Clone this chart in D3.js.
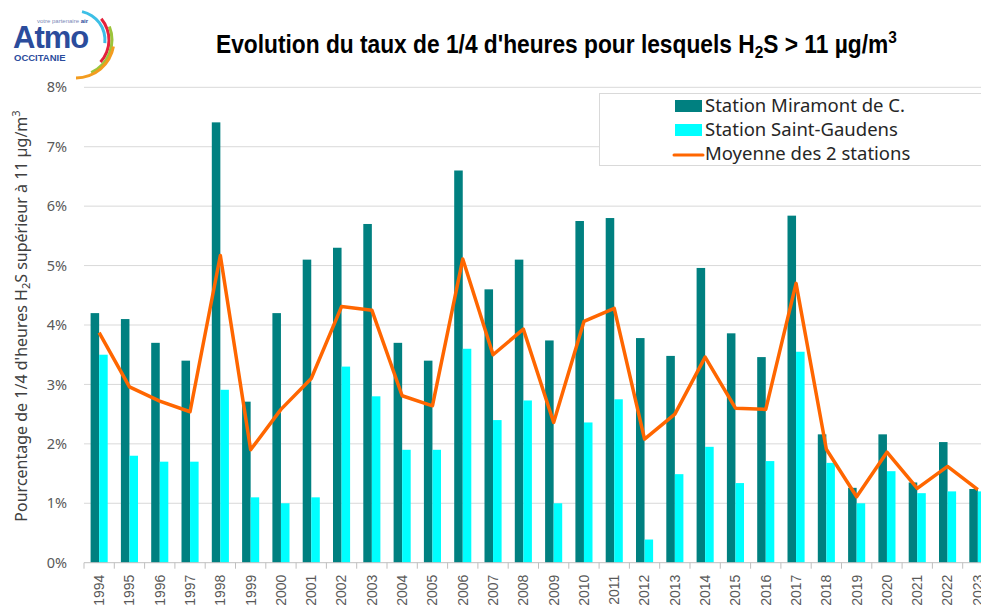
<!DOCTYPE html>
<meta charset="utf-8">
<html>
<head>
  <style>
    body { margin: 0; background: #fff; }
    svg { display: block; }
    .tick-lbl { font-family: "Noto Sans", "Open Sans", sans-serif; font-size: 14.5px; fill: #595959; }
    .year-lbl { font-family: "Liberation Sans", Arial, sans-serif; font-size: 14px; fill: #595959; }
    .legend-lbl { font-family: "Noto Sans", "Open Sans", sans-serif; font-size: 18.5px; fill: #262626; }
  </style>
  <script src="https://d3js.org/d3.v7.min.js"></script>
</head>
<body>
<svg width="981" height="608"></svg>
<script>
  var years = ["1994","1995","1996","1997","1998","1999","2000","2001","2002","2003",
               "2004","2005","2006","2007","2008","2009","2010","2011","2012","2013",
               "2014","2015","2016","2017","2018","2019","2020","2021","2022","2023"];

  // % of quarter hours with H2S > 11 µg/m3
  var miramont = [4.2, 4.1, 3.7, 3.4, 7.41, 2.71, 4.2, 5.1, 5.3, 5.7,
                  3.7, 3.4, 6.6, 4.6, 5.1, 3.74, 5.75, 5.8, 3.78, 3.48,
                  4.96, 3.86, 3.46, 5.84, 2.16, 1.26, 2.16, 1.35, 2.03, 1.24];
  var saintGaudens = [3.5, 1.8, 1.7, 1.7, 2.91, 1.1, 1.0, 1.1, 3.3, 2.8,
                      1.9, 1.9, 3.6, 2.4, 2.73, 1.0, 2.36, 2.75, 0.39, 1.49,
                      1.95, 1.34, 1.71, 3.55, 1.68, 1.0, 1.54, 1.17, 1.2, 1.2];
  var moyenne = [3.87, 2.96, 2.72, 2.54, 5.17, 1.9, 2.58, 3.1, 4.31, 4.25,
                 2.81, 2.64, 5.11, 3.5, 3.93, 2.36, 4.06, 4.28, 2.08, 2.5,
                 3.46, 2.6, 2.58, 4.7, 1.91, 1.11, 1.86, 1.25, 1.62, 1.23];
  var yTicks = [0, 1, 2, 3, 4, 5, 6, 7, 8];

  var colMiramont = "#008080", colSaint = "#00ffff", colMoy = "#ff6600";

  var svg = d3.select("svg");

  var plotLeft = 84, step = 30.3,
      plotTop = 87.3, plotBottom = 562.7;

  var x = d3.scaleBand().domain(years).range([plotLeft, plotLeft + step * years.length]);
  var sub = d3.scaleBand().domain(["m", "s"]).range([6.6, x.bandwidth() - 6.6]);
  var y = d3.scaleLinear().domain([0, 8]).range([plotBottom, plotTop]);

  // gridlines
  svg.append("g").selectAll("line")
     .data(yTicks.filter(function(d) { return d > 0; }))
     .enter().append("line")
     .attr("x1", plotLeft).attr("x2", x.range()[1])
     .attr("y1", function(d) { return y(d); })
     .attr("y2", function(d) { return y(d); })
     .attr("stroke", "#d9d9d9").attr("stroke-width", 1);

  // y tick labels
  svg.append("g").selectAll("text")
     .data(yTicks)
     .enter().append("text")
     .attr("class", "tick-lbl")
     .attr("x", 67)
     .attr("y", function(d) { return y(d); })
     .attr("dy", "0.35em")
     .attr("text-anchor", "end")
     .text(function(d) { return d + "%"; });

  // bars
  var groups = svg.append("g").selectAll("g")
     .data(years)
     .enter().append("g")
     .attr("transform", function(d) { return "translate(" + x(d) + ",0)"; });

  groups.append("rect")
     .attr("x", sub("m"))
     .attr("width", sub.bandwidth())
     .attr("y", function(d, i) { return y(miramont[i]); })
     .attr("height", function(d, i) { return plotBottom - y(miramont[i]); })
     .attr("fill", colMiramont);

  groups.append("rect")
     .attr("x", sub("s"))
     .attr("width", sub.bandwidth())
     .attr("y", function(d, i) { return y(saintGaudens[i]); })
     .attr("height", function(d, i) { return plotBottom - y(saintGaudens[i]); })
     .attr("fill", colSaint);

  // x axis line + ticks at band boundaries
  svg.append("line")
     .attr("x1", plotLeft).attr("x2", x.range()[1])
     .attr("y1", plotBottom).attr("y2", plotBottom)
     .attr("stroke", "#bfbfbf").attr("stroke-width", 1);

  svg.append("g").selectAll("line")
     .data(years)
     .enter().append("line")
     .attr("x1", function(d) { return x(d); })
     .attr("x2", function(d) { return x(d); })
     .attr("y1", plotBottom).attr("y2", plotBottom + 6)
     .attr("stroke", "#bfbfbf");

  svg.append("g").selectAll("text")
     .data(years)
     .enter().append("text")
     .attr("class", "year-lbl")
     .attr("transform", function(d) {
         return "translate(" + (x(d) + x.bandwidth() / 2) + "," + (plotBottom + 12) + ") rotate(-90)";
     })
     .attr("dy", "0.35em")
     .attr("text-anchor", "end")
     .text(function(d) { return d; });

  // average line
  var line = d3.line()
     .x(function(d, i) { return x(years[i]) + x.bandwidth() / 2; })
     .y(function(d) { return y(d); });

  svg.append("path")
     .datum(moyenne)
     .attr("d", line)
     .attr("fill", "none")
     .attr("stroke", colMoy)
     .attr("stroke-width", 3.5)
     .attr("stroke-linejoin", "round");

  // y axis title
  var yt = svg.append("text")
     .attr("transform", "translate(27,316) rotate(-90)")
     .attr("text-anchor", "middle")
     .attr("font-family", "Noto Sans, Open Sans, sans-serif")
     .attr("font-size", "16px")
     .attr("fill", "#404040");
  yt.append("tspan").text("Pourcentage de 1/4 d'heures H");
  yt.append("tspan").attr("font-size", "11px").attr("dy", 3).text("2");
  yt.append("tspan").attr("dy", -3).text("S supérieur à 11 µg/m");
  yt.append("tspan").attr("font-size", "11px").attr("dy", -7).text("3");

  // title (condensed to mimic a narrow face)
  var title = svg.append("text")
     .attr("transform", "translate(216,53) scale(0.91,1)")
     .attr("font-family", "Liberation Sans Narrow, Arial Narrow, Liberation Sans, sans-serif")
     .attr("font-weight", "bold")
     .attr("font-size", "25px")
     .attr("fill", "#000");
  title.append("tspan").text("Evolution du taux de 1/4 d'heures pour lesquels H");
  title.append("tspan").attr("font-size", "17px").attr("dy", 5).text("2");
  title.append("tspan").attr("dy", -5).text("S > 11 µg/m");
  title.append("tspan").attr("font-size", "17px").attr("dy", -10).text("3");

  // legend
  var legend = svg.append("g");
  legend.append("rect")
     .attr("x", 599.5).attr("y", 93.5)
     .attr("width", 400).attr("height", 72)
     .attr("fill", "#fff").attr("stroke", "#d9d9d9");

  var legItems = [
      {name: "Station Miramont de C.", type: "bar", color: colMiramont},
      {name: "Station Saint-Gaudens", type: "bar", color: colSaint},
      {name: "Moyenne des 2 stations", type: "line", color: colMoy}
  ];
  legItems.forEach(function(it, i) {
      var cy = 106 + i * 24;
      if (it.type === "bar") {
          legend.append("rect").attr("x", 675).attr("y", cy - 6)
                .attr("width", 27).attr("height", 12).attr("fill", it.color);
      } else {
          legend.append("line").attr("x1", 674).attr("x2", 703)
                .attr("y1", cy + 1).attr("y2", cy + 1)
                .attr("stroke", it.color).attr("stroke-width", 3)
                .attr("stroke-linecap", "round");
      }
      legend.append("text").attr("class", "legend-lbl")
            .attr("x", 705).attr("y", cy).attr("dy", "0.35em")
            .text(it.name);
  });

  // logo
  var logo = svg.append("g");
  var arc = d3.arc();
  var arcs = [
      {r: 29, a0: 12, a1: 96, c: "#3cbfe6"},
      {r: 33, a0: 50, a1: 132, c: "#e4223c"},
      {r: 36, a0: 68, a1: 155, c: "#9cc43b"},
      {r: 38, a0: 100, a1: 180, c: "#f39c1f"}
  ];
  arcs.forEach(function(a) {
      logo.append("path")
          .attr("transform", "translate(76,40)")
          .attr("d", arc({innerRadius: a.r - 1.5, outerRadius: a.r + 1.5,
                          startAngle: a.a0 * Math.PI / 180, endAngle: a.a1 * Math.PI / 180}))
          .attr("fill", a.c);
  });
  logo.append("text")
      .attr("x", 13).attr("y", 48)
      .attr("font-family", "Liberation Sans, Arial, sans-serif")
      .attr("font-weight", "bold").attr("font-size", "31px")
      .attr("letter-spacing", "-1px")
      .attr("fill", "#2b4c9c")
      .text("Atmo");
  logo.append("text")
      .attr("x", 14).attr("y", 61)
      .attr("font-family", "Liberation Sans, Arial, sans-serif")
      .attr("font-weight", "bold").attr("font-size", "9.5px")
      .attr("fill", "#2b4c9c")
      .text("OCCITANIE");
  var tag = logo.append("text")
      .attr("x", 88).attr("y", 23)
      .attr("text-anchor", "end")
      .attr("font-family", "Liberation Sans, Arial, sans-serif")
      .attr("font-size", "6px")
      .attr("fill", "#7a8ab8");
  tag.append("tspan").text("votre partenaire ");
  tag.append("tspan").attr("font-weight", "bold").attr("fill", "#2b4c9c").text("air");
</script>
</body>
</html>
